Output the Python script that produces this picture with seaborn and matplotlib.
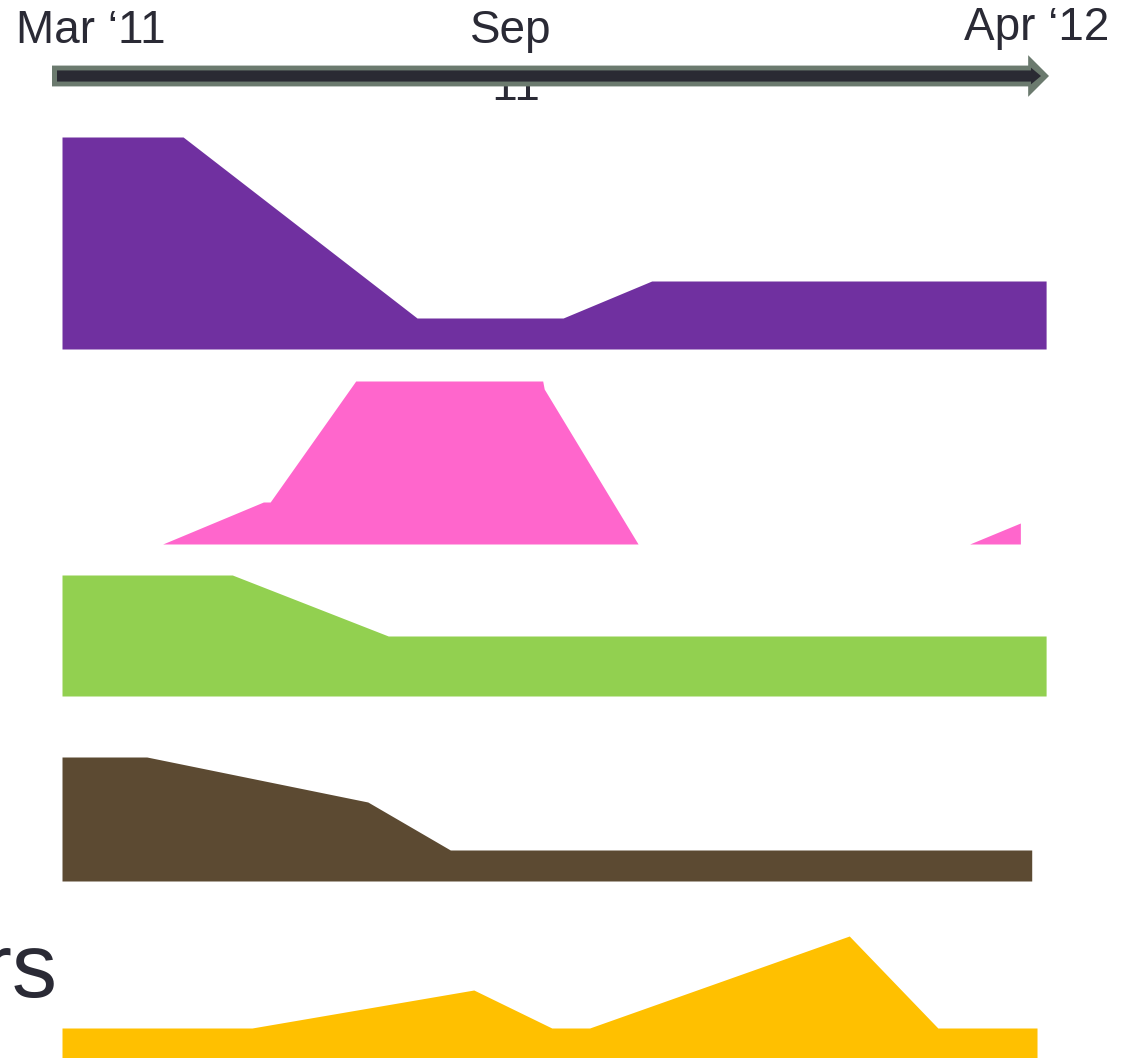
import numpy as np
import pandas as pd
import matplotlib
matplotlib.use("Agg")
import matplotlib.pyplot as plt
import seaborn as sns

# ---------------- data (months since Mar '11, band heights) ----------------
timeline_labels = ["Mar \u201811", "Sep", "\u201811", "Apr \u201812"]
other_label = "Others"

purple_x = [0.0, 1.6, 4.69, 6.62, 7.79, 13.0]
purple_y = [212, 212, 31, 31, 68, 68]

pink_x = [1.33, 2.66, 2.66, 2.75, 3.88, 6.35, 6.37, 7.61, 11.99, 12.66, 12.66]
pink_y = [0, 42, 42, 42, 163, 163, 155, 0, 0, 21, 0]

green_x = [0.0, 2.25, 4.31, 13.0]
green_y = [121, 121, 60, 60]

brown_x = [0.0, 1.12, 4.04, 5.13, 12.81]
brown_y = [124, 124, 79, 31, 31]

yellow_x = [0.0, 2.51, 5.44, 6.47, 6.97, 10.40, 11.57, 12.88]
yellow_y = [30, 30, 68, 30, 30, 122, 30, 30]

colors = ["#7030A0", "#FF66CC", "#92D050", "#5C4A32", "#FFC000"]
text_color = "#2A2A35"

# ---------------- figure ----------------
sns.set_theme(style="white")
plt.rcParams["font.family"] = ["Liberation Sans", "DejaVu Sans"]

W, H = 1128, 1058
fig = plt.figure(figsize=(W / 100, H / 100), dpi=100)
fig.patch.set_facecolor("white")

px0, ppm = 62.0, 75.7  # pixel of month 0, pixels per month
xlim = (-px0 / ppm, (W - px0) / ppm)

bands = [
    (purple_x, purple_y, 349),
    (pink_x, pink_y, 544),
    (green_x, green_y, 696),
    (brown_x, brown_y, 881),
    (yellow_x, yellow_y, 1058),
]
band_h = 250
for (bx, by, base), c in zip(bands, colors):
    ax = fig.add_axes([0, 1 - base / H, 1, band_h / H])
    df = pd.DataFrame({"x": bx, "y": by})
    sns.lineplot(data=df, x="x", y="y", estimator=None, sort=False,
                 color=c, lw=0, ax=ax)
    ax.fill_between(df["x"], 0, df["y"], color=c, lw=0, zorder=2)
    ax.set_xlim(*xlim)
    ax.set_ylim(0, band_h)
    ax.axis("off")
    ax.patch.set_alpha(0)

# overlay axes for timeline arrow and labels
ov = fig.add_axes([0, 0, 1, 1])
ov.set_xlim(*xlim)
ov.set_ylim(H, 0)
ov.axis("off")
ov.patch.set_alpha(0)

ov.annotate("", xy=((1049 - px0) / ppm, 76), xytext=((52 - px0) / ppm, 76),
            arrowprops=dict(arrowstyle="simple,head_length=1.0,head_width=2.0,tail_width=1.0",
                            mutation_scale=15, fc="#6B7A6E", ec="none",
                            shrinkA=0, shrinkB=0), zorder=5)
ov.annotate("", xy=((1041 - px0) / ppm, 76), xytext=((57 - px0) / ppm, 76),
            arrowprops=dict(arrowstyle="simple,head_length=0.9,head_width=1.5,tail_width=1.0",
                            mutation_scale=8, fc="#2A2A33", ec="none",
                            shrinkA=0, shrinkB=0), zorder=6)

fs = 33
ov.text(16 / W, 1 - 43 / H, timeline_labels[0], transform=fig.transFigure,
        ha="left", va="baseline", fontsize=fs, color=text_color, zorder=2)
ov.text(511 / W, 1 - 43 / H, timeline_labels[1], transform=fig.transFigure,
        ha="center", va="baseline", fontsize=fs, color=text_color, zorder=2)
ov.text(511 / W, 1 - 100 / H, timeline_labels[2], transform=fig.transFigure,
        ha="center", va="baseline", fontsize=fs, color=text_color, zorder=2)
ov.text(1109 / W, 1 - 40 / H, timeline_labels[3], transform=fig.transFigure,
        ha="right", va="baseline", fontsize=fs, color=text_color, zorder=2)
ov.text(58 / W, 1 - 997 / H, other_label, transform=fig.transFigure,
        ha="right", va="baseline", fontsize=65, color=text_color, zorder=2)

fig.savefig("out.png", dpi=100)
